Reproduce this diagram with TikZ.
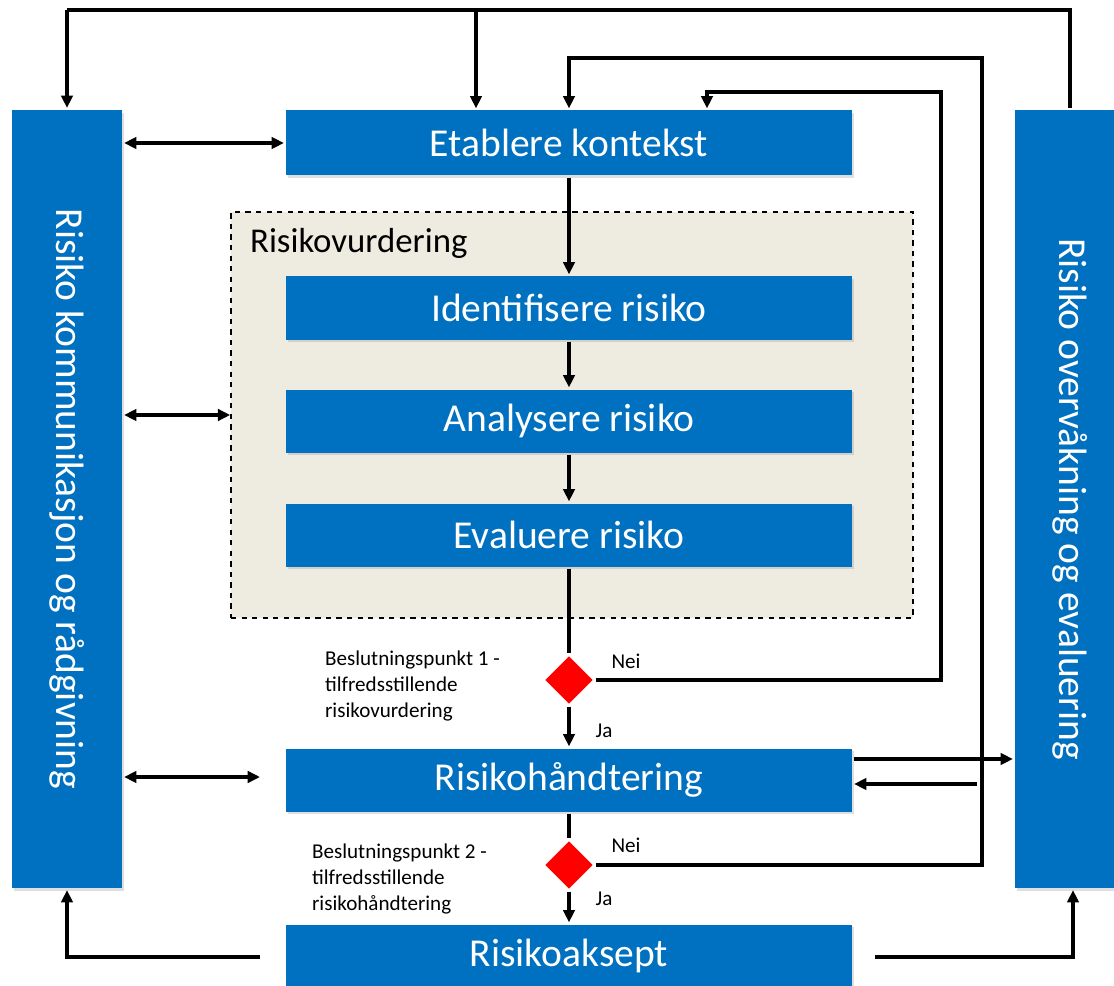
\documentclass[tikz,border=0pt]{standalone}
\usepackage{fontspec}
\setmainfont{Carlito}
\usetikzlibrary{arrows.meta,shapes.geometric,shadows}
\definecolor{boxblue}{HTML}{0070C0}
\definecolor{beige}{HTML}{EEECE1}
\begin{document}
\begin{tikzpicture}[line width=2.4pt,
    box/.style={rectangle, fill=boxblue, text=white, inner sep=0pt, font=\fontsize{22.5}{26}\selectfont,
                drop shadow={opacity=0.25, shadow xshift=1pt, shadow yshift=-1.5pt}},
    stepbox/.style={box, minimum width=11.32cm, minimum height=1.26cm},
    sidebox/.style={box, minimum width=2.2cm, minimum height=15.56cm},
    dec/.style={diamond, fill=red, inner sep=0pt, minimum width=0.98cm, minimum height=0.98cm},
    lbl/.style={font=\fontsize{12}{14.8}\selectfont, align=left, inner sep=0pt},
    >={Triangle[length=7pt, width=6.5pt]}]
    \useasboundingbox (0,0) rectangle (22.28,-19.72);

    % risikovurdering frame
    \node[draw, dashed, line width=0.9pt, fill=beige, minimum width=13.64cm, minimum height=8.12cm] (vurd) at (11.44,-8.3) {};
    \node[anchor=west, inner sep=0pt, font=\fontsize{19.8}{22}\selectfont] (vurdtxt) at (4.96,-4.86) {Risikovurdering};

    \node[sidebox] (komm) at (1.34,-9.98) {\rotatebox{-90}{Risiko kommunikasjon og rådgivning}};
    \node[sidebox] (overv) at (21.4,-9.98) {\rotatebox{-90}{Risiko overvåkning og evaluering}};

    \node[stepbox, minimum height=1.3cm] (etab) at (11.38,-2.86) {Etablere kontekst};
    \node[stepbox] (ident) at (11.38,-6.16) {Identifisere risiko};
    \node[stepbox] (anal) at (11.38,-8.42) {Analysere risiko};
    \node[stepbox] (eval) at (11.38,-10.7) {Evaluere risiko};
    \node[dec] (bp1) at (11.38,-13.6) {};
    \node[stepbox] (handt) at (11.38,-15.6) {Risikohåndtering};
    \node[dec] (bp2) at (11.38,-17.3) {};
    \node[stepbox] (aksept) at (11.38,-19.12) {Risikoaksept};

    \node[lbl, anchor=west] (bp1txt) at (6.46,-13.72) {Beslutningspunkt 1 -\\tilfredsstillende\\risikovurdering};
    \node[lbl, anchor=west] (bp2txt) at (6.2,-17.58) {Beslutningspunkt 2 -\\tilfredsstillende\\risikohåndtering};
    \node[lbl] (nei1) at (12.52,-13.22) {Nei};
    \node[lbl] (ja1) at (12.08,-14.62) {Ja};
    \node[lbl] (nei2) at (12.52,-16.9) {Nei};
    \node[lbl] (ja2) at (12.08,-17.98) {Ja};

    \coordinate (top) at (21.4,-0.2);
    \coordinate (n1) at (18.82,-1.84);
    \coordinate (n2) at (19.64,-1.16);
    \coordinate (r1) at (19.54,-15.68);
    \coordinate (a1) at (5.2,-19.14);
    \coordinate (a2) at (17.5,-19.14);
    \coordinate (h1) at (5.2,-15.54);

    % main chain
    \draw[->] (etab) edge (ident);
    \draw[->] (ident) edge (anal);
    \draw[->] (anal) edge (eval);
    \draw (eval) edge (bp1);
    \draw[->] (bp1) edge (handt);
    \draw (handt) edge (bp2);
    \draw[->] (bp2) edge (aksept);

    % feedback loops
    \draw[->] (bp1.east) -| (n1) -| ([xshift=2.76cm]etab.north);
    \draw[->] (bp2.east) -| (n2) -| (etab.north);
    \draw (overv.north) -- (top) -- (komm.north |- top);
    \draw[->] (komm.north |- top) -- (komm.north);
    \draw[->] (9.52,-0.2) -- (etab.north -| 9.52,0);

    % communication
    \draw[<->] (komm.east |- etab) -- (etab.west);
    \draw[<->] (komm.east |- vurd) -- (vurd.west);
    \draw[<->] (komm.east |- h1) -- (h1);

    % monitoring
    \draw[->] ([yshift=0.42cm]handt.east) -- ([yshift=0.42cm]handt.east -| overv.west);
    \draw[->] (r1) -- (r1 -| handt.east);
    \draw[->] (a1) -| (komm.south);
    \draw[->] (a2) -| ([xshift=0.06cm]overv.south);
\end{tikzpicture}
\end{document}
